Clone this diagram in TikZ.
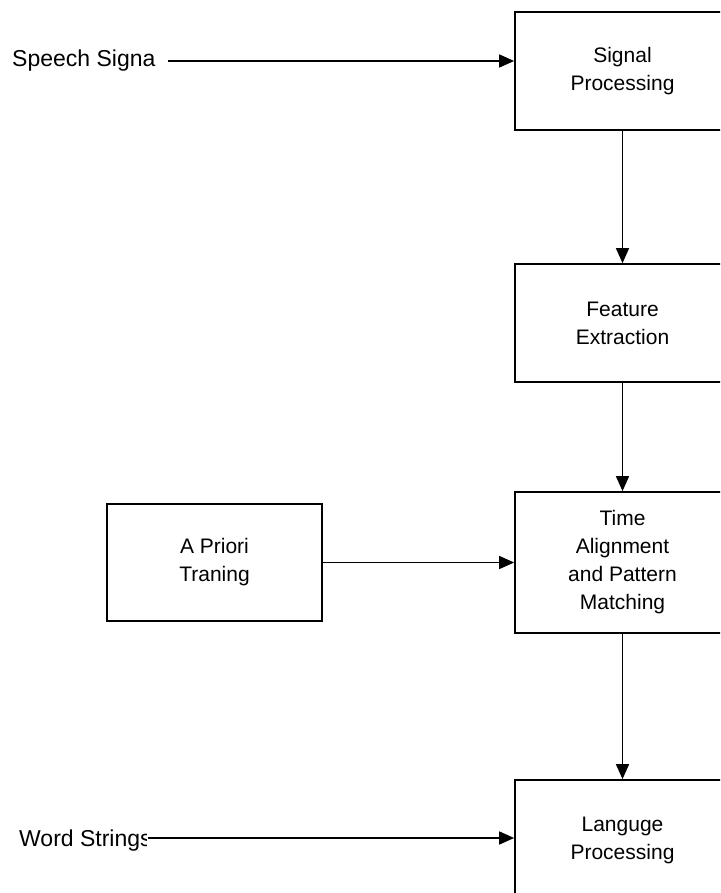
\documentclass[tikz,border=0pt]{standalone}
\usepackage{fontspec}
\setmainfont{Liberation Sans}
\usetikzlibrary{arrows.meta}
\tikzset{
  box/.style={draw, line width=1.7pt, rectangle, minimum width=215pt, align=center, inner sep=0pt,
    font=\fontsize{21}{28}\selectfont},
  lbl/.style={inner sep=0pt, font=\fontsize{23}{28}\selectfont},
  conn/.style={line width=1.5pt, -{Triangle[length=15pt,width=13pt]}}
}
\begin{document}
\begin{tikzpicture}[x=1pt,y=-1pt]
\useasboundingbox (0,0) rectangle (720,893);
\clip (0,0) rectangle (720,893);
\node[box, minimum height=118pt] (sig) at (622.5,71) {Signal\\Processing};
\node[box, minimum height=118pt] (feat) at (622.5,323) {Feature\\Extraction};
\node[box, minimum height=141pt] (time) at (622.5,562.5) {Time\\Alignment\\and Pattern\\Matching};
\node[box, minimum height=120pt] (lang) at (622.5,840) {Languge\\Processing};
\node[box, minimum height=117pt] (apr) at (214.5,562.5) {A Priori\\Traning};
\node[lbl, anchor=base west] (speech) at (12,67) {Speech Signa};
\begin{scope}
\clip (0,800) rectangle (146,870);
\node[lbl, anchor=base west] (word) at (19,846) {Word Strings};
\end{scope}
\coordinate (sstart) at (168,61);
\coordinate (wstart) at (148,838);
\draw[conn] (sstart) -- (sstart -| sig.west);
\draw[conn] (wstart) -- (wstart -| lang.west);
\draw[conn] (sig.south) -- (feat.north);
\draw[conn] (feat.south) -- (time.north);
\draw[conn] (time.south) -- (lang.north);
\draw[conn] (apr.east) -- (time.west);
\end{tikzpicture}
\end{document}
